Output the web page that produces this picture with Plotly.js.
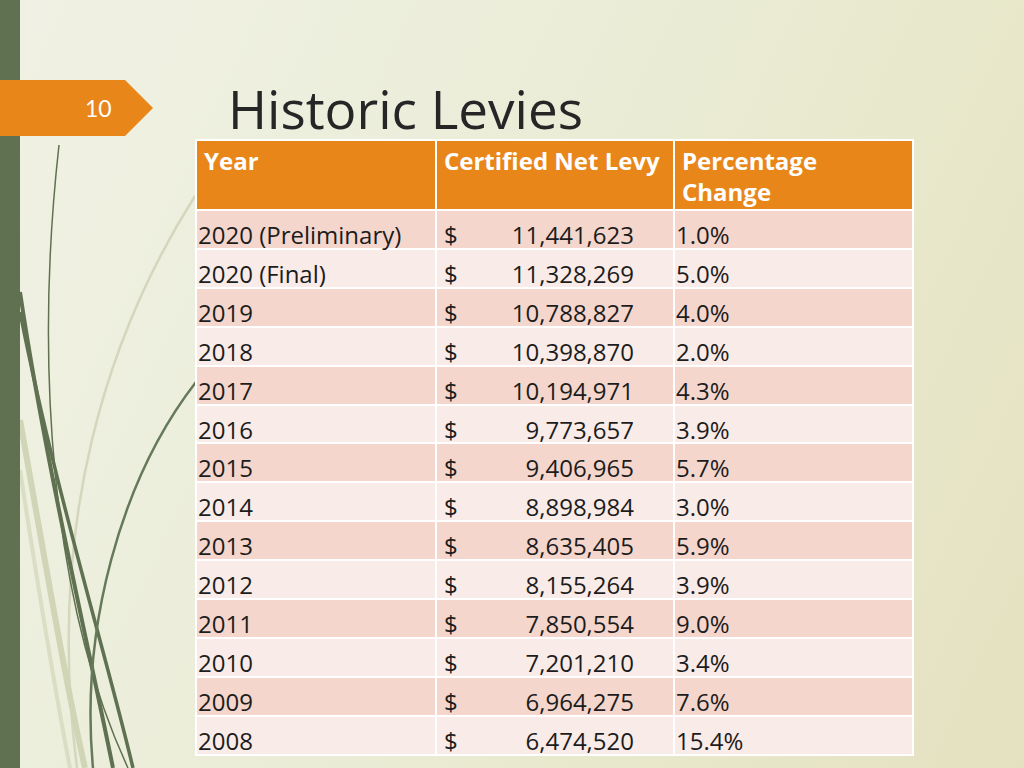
<!DOCTYPE html>
<html>
<head>
<meta charset="utf-8">
<script src="https://cdn.plot.ly/plotly-3.0.1.min.js"></script>
<style>
  html, body { margin: 0; padding: 0; width: 1024px; height: 768px; overflow: hidden; }
  body { background: linear-gradient(115deg, #f0f1e4 0%, #eceedb 35%, #e8e8cc 70%, #e4e1c0 100%); }
  #chart { width: 1024px; height: 768px; }
</style>
</head>
<body>
<div id="chart"></div>
<script>
// ---- data ----
const headerLabels = ["Year", "Certified Net Levy", "Percentage<br>Change"];
const years = ["2020 (Preliminary)", "2020 (Final)", "2019", "2018", "2017", "2016", "2015",
               "2014", "2013", "2012", "2011", "2010", "2009", "2008"];
const levies = [11441623, 11328269, 10788827, 10398870, 10194971, 9773657, 9406965,
                8898984, 8635405, 8155264, 7850554, 7201210, 6964275, 6474520];
const pctChange = [1.0, 5.0, 4.0, 2.0, 4.3, 3.9, 5.7, 3.0, 5.9, 3.9, 9.0, 3.4, 7.6, 15.4];
const currencySymbol = "$";
const slideTitle = "Historic Levies";
const slideNumber = "10";

// ---- layout helpers (pixel -> paper) ----
const W = 1024, H = 768;
const X = x => x / W;
const Y = y => 1 - y / H;
function curve(pts) {
  const p = pts.map((v, i) => i % 2 === 0 ? X(v) : Y(v));
  return `M ${p[0]} ${p[1]} C ${p[2]} ${p[3]}, ${p[4]} ${p[5]}, ${p[6]} ${p[7]}`;
}

const darkRow = "#f4d6cc", lightRow = "#f9ebe7";
const rowFill = years.map((_, i) => i % 2 === 0 ? darkRow : lightRow);
const bodyFont = "'Open Sans', sans-serif";
const textColor = "#1c1c1c";
const tLeft = 196, tRight = 913, tTop = 140;
const colW = [240, 238, 239];
const headerH = 70, cellH = 38.9;
const bodySize = 24, headSize = 24;
const clear = "rgba(0,0,0,0)";
const blank = years.map(() => "");
const dollarCol = years.map(() => currencySymbol);

// background table: header + row fills (no text)
const baseTable = {
  type: "table",
  domain: { x: [X(tLeft), X(tRight)], y: [0, Y(tTop)] },
  columnwidth: colW,
  header: {
    values: ["", "", ""],
    height: headerH,
    fill: { color: "#e8861a" },
    line: { color: "#ffffff", width: 2 },
    font: { family: bodyFont, size: 12, color: "#ffffff" }
  },
  cells: {
    values: [blank, blank, blank],
    height: cellH,
    fill: { color: [rowFill, rowFill, rowFill] },
    line: { color: "#ffffff", width: 2 },
    font: { family: bodyFont, size: 12, color: textColor }
  }
};

function overlay(x0, x1, top, widths, headVals, values, opts) {
  return {
    type: "table",
    domain: { x: [X(x0), X(x1)], y: [0, Y(top)] },
    columnwidth: widths,
    header: {
      values: headVals,
      align: "left",
      height: headerH,
      fill: { color: clear },
      line: { color: clear, width: 0 },
      font: { family: bodyFont, size: headSize, color: "#ffffff", weight: "bold" }
    },
    cells: Object.assign({
      values: values,
      align: "left",
      height: cellH,
      fill: { color: clear },
      line: { color: clear, width: 0 },
      font: { family: bodyFont, size: bodySize, color: textColor }
    }, opts || {})
  };
}
const textDrop = 8;
const shift = 6;
const bodyTop = tTop + textDrop;
const yearTable = overlay(tLeft - shift, tLeft - shift + colW[0], bodyTop, [1], [""], [years]);
const dollarTable = overlay(436, 436 + colW[1], bodyTop, [1], [""], [dollarCol]);
const levyTable = overlay(436, 642, bodyTop, [1], [""], [levies], { format: [","], align: "right" });
const pctTable = overlay(674 - shift, tRight - shift, bodyTop, [1], [""], [pctChange], { format: [".1f"], suffix: ["%"] });
// header text overlays
const headTable1 = overlay(tLeft, tLeft + colW[0] + colW[1], tTop + 4, [colW[0], colW[1]],
                           [headerLabels[0], headerLabels[1]], [blank, blank]);
const headTable2 = overlay(674, tRight, tTop - 4, [1], [headerLabels[2]], [blank]);

const green = "#5f7150";
const shapes = [
  { type: "path", path: curve([20, 420, 45, 560, 65, 680, 85, 768]), line: { color: "rgba(196,202,165,0.7)", width: 6 }, layer: "below" },
  { type: "path", path: curve([20, 470, 40, 600, 55, 690, 70, 768]), line: { color: "rgba(205,210,178,0.6)", width: 4 }, layer: "below" },
  { type: "path", path: curve([195, 196, 110, 330, 45, 520, 77, 768]), line: { color: "rgba(208,212,184,0.9)", width: 2.5 }, layer: "below" },
  { type: "path", path: curve([59, 145, 35, 360, 50, 600, 128, 768]), line: { color: green, width: 1.5 }, layer: "below" },
  { type: "path", path: curve([20, 292, 45, 460, 85, 630, 113, 768]), line: { color: green, width: 4 }, layer: "below" },
  { type: "path", path: curve([20, 312, 55, 490, 105, 650, 133, 768]), line: { color: green, width: 3.5 }, layer: "below" },
  { type: "path", path: curve([196, 382, 120, 480, 80, 630, 93, 768]), line: { color: "#66795a", width: 2.5 }, layer: "below" },
  { type: "rect", x0: 0, x1: X(20), y0: 0, y1: 1, fillcolor: green, line: { width: 0 }, layer: "below" },
  { type: "path", path: `M ${X(0)} ${Y(80)} L ${X(125)} ${Y(80)} L ${X(153)} ${Y(108)} L ${X(125)} ${Y(136)} L ${X(0)} ${Y(136)} Z`,
    fillcolor: "#e8861a", line: { width: 0 }, layer: "below" }
].map(s => Object.assign({ xref: "paper", yref: "paper" }, s));

const layout = {
  width: W, height: H,
  margin: { l: 0, r: 0, t: 0, b: 0 },
  paper_bgcolor: clear,
  plot_bgcolor: clear,
  showlegend: false,
  shapes: shapes,
  annotations: [
    { text: slideTitle, xref: "paper", yref: "paper", x: X(226), y: Y(108), xanchor: "left", yanchor: "middle",
      showarrow: false, font: { family: "'Open Sans', sans-serif", size: 53, color: "#262626" } },
    { text: slideNumber, xref: "paper", yref: "paper", x: X(98), y: Y(108), xanchor: "center", yanchor: "middle",
      showarrow: false, font: { family: "Lato, sans-serif", size: 23, color: "#ffffff" } }
  ]
};

Plotly.newPlot("chart", [baseTable, yearTable, dollarTable, levyTable, pctTable, headTable1, headTable2], layout,
  { displayModeBar: false, staticPlot: true });
</script>
</body>
</html>
